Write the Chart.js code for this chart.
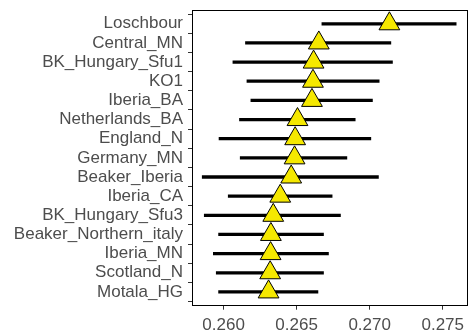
<!DOCTYPE html>
<html>
<head>
<meta charset="utf-8">
<script src="https://cdn.jsdelivr.net/npm/chart.js@4"></script>
<style>
html,body{margin:0;padding:0;background:#fff;}
#wrap{width:470px;height:334px;}
</style>
</head>
<body>
<div id="wrap"><canvas id="c" width="470" height="334"></canvas></div>
<script>
const populations = ["Loschbour","Central_MN","BK_Hungary_Sfu1","KO1","Iberia_BA","Netherlands_BA","England_N","Germany_MN","Beaker_Iberia","Iberia_CA","BK_Hungary_Sfu3","Beaker_Northern_italy","Iberia_MN","Scotland_N","Motala_HG"];
const estimate = [0.27135,0.26652,0.26616,0.26612,0.26605,0.26506,0.26490,0.26486,0.26463,0.26388,0.26340,0.26324,0.26322,0.26319,0.26308];
const lower    = [0.26673,0.26150,0.26064,0.26160,0.26187,0.26109,0.25969,0.26114,0.25854,0.26032,0.25868,0.25966,0.25930,0.25950,0.25966];
const upper    = [0.27592,0.27145,0.27156,0.27065,0.27019,0.26901,0.27008,0.26844,0.27060,0.26743,0.26800,0.26684,0.26718,0.26684,0.26646];
const xTicks = [0.260,0.265,0.270,0.275];

const panelBox = {
  id:'panelBox',
  afterDatasetsDraw(chart){
    const a = chart.chartArea, ctx = chart.ctx;
    ctx.save();
    ctx.strokeStyle = '#000';
    ctx.lineWidth = 1;
    ctx.strokeRect(Math.round(a.left)+0.5, Math.round(a.top)+0.5, Math.round(a.right-a.left)-1, Math.round(a.bottom-a.top)-1);
    ctx.restore();
  }
};

new Chart(document.getElementById('c'), {
  type:'bar',
  data:{
    datasets:[
      {
        type:'scatter',
        data: estimate.map((v,i)=>({x:v,y:i})),
        pointStyle:'triangle',
        radius:12,
        hoverRadius:12,
        backgroundColor:'#f5e800',
        borderColor:'#000',
        borderWidth:1,
        order:0
      },
      {
        type:'bar',
        indexAxis:'y',
        data: lower.map((v,i)=>({y:i, x:[v, upper[i]]})),
        backgroundColor:'#000',
        borderWidth:0,
        barThickness:2.6,
        order:1
      }
    ]
  },
  options:{
    responsive:false,
    animation:false,
    indexAxis:'y',
    layout:{autoPadding:false,padding:{left:0,right:2,top:10,bottom:0}},
    plugins:{legend:{display:false},tooltip:{enabled:false},title:{display:false}},
    scales:{
      x:{
        type:'linear',
        min:0.25784,
        max:0.27673,
        afterBuildTicks(s){ s.ticks = xTicks.map(v=>({value:v})); },
        afterFit(s){ s.height = 28.3; s.paddingLeft = 0; s.paddingRight = 0; },
        grid:{display:true,drawOnChartArea:false,drawTicks:true,tickLength:4,tickColor:'#333',tickWidth:1},
        border:{display:false},
        ticks:{color:'#4d4d4d',font:{family:'Liberation Sans, Arial, sans-serif',size:17},padding:5,maxRotation:0,
          callback:(v)=>Number(v).toFixed(3)}
      },
      y:{
        type:'linear',
        reverse:true,
        offset:false,
        min:-0.72,
        max:14.72,
        afterBuildTicks(s){ s.ticks = populations.map((p,i)=>({value:i})); },
        afterFit(s){ s.width = 192; s.paddingTop = 0; s.paddingBottom = 0; },
        grid:{display:true,drawOnChartArea:false,drawTicks:true,tickLength:4,tickColor:'#333',tickWidth:1},
        border:{display:false},
        ticks:{color:'#4d4d4d',font:{family:'Liberation Sans, Arial, sans-serif',size:17},padding:5,autoSkip:false,
          callback:(v)=>populations[v]}
      }
    }
  },
  plugins:[panelBox]
});
</script>
</body>
</html>
